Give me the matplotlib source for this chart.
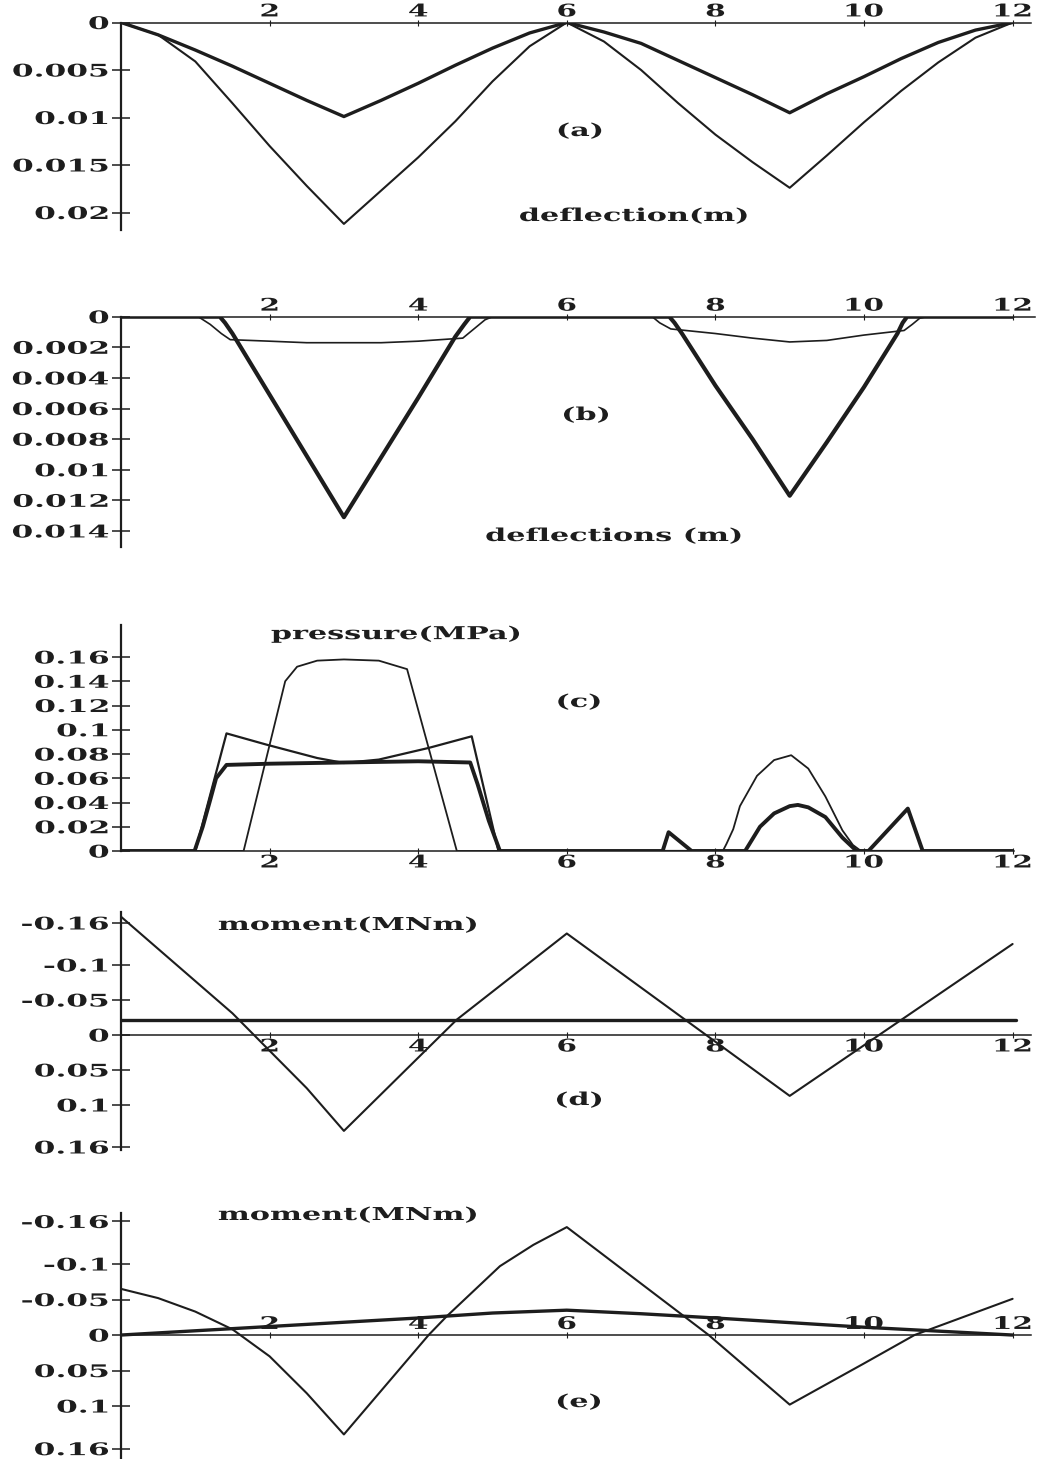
import matplotlib
matplotlib.use('Agg')
import matplotlib.pyplot as plt
from matplotlib.patheffects import AbstractPathEffect
from matplotlib.transforms import Affine2D

# ---------------- data ----------------
# (a) deflection (m)
a_x = [0, 0.5, 1, 1.5, 2, 2.5, 3, 3.5, 4, 4.5, 5, 5.5, 6,
       6.5, 7, 7.5, 8, 8.5, 9, 9.5, 10, 10.5, 11, 11.5, 12]
a_thin = [0, 0.0013, 0.0041, 0.0085, 0.0130, 0.0172, 0.0212, 0.0177, 0.0142, 0.0104, 0.0062, 0.0025, 0,
          0.0020, 0.0050, 0.0085, 0.0118, 0.0147, 0.0174, 0.0140, 0.0105, 0.0072, 0.0042, 0.0016, 0]
a_thick = [0, 0.0013, 0.0029, 0.0046, 0.0064, 0.0082, 0.0099, 0.0082, 0.0064, 0.0045, 0.0027, 0.0011, 0,
           0.0010, 0.0022, 0.0040, 0.0058, 0.0076, 0.0095, 0.0075, 0.0057, 0.0038, 0.0021, 0.0008, 0]
a_yticks = [0, 0.005, 0.01, 0.015, 0.02]
a_ylabels = ['0', '0.005', '0.01', '0.015', '0.02']

# (b) deflections (m)
b_thick_x = [0, 1.33, 1.40, 1.5, 2.0, 2.5, 3.0, 3.5, 4.0, 4.5, 4.62, 4.70,
             7.38, 7.45, 7.55, 8.0, 8.5, 9.0, 9.5, 10.0, 10.45, 10.52, 10.58, 12]
b_thick_y = [0, 0, 0.0004, 0.0011, 0.0051, 0.0091, 0.0131, 0.0092, 0.0053, 0.0013, 0.0005, 0,
             0, 0.0004, 0.0011, 0.0045, 0.0080, 0.0117, 0.0082, 0.0046, 0.0011, 0.0004, 0, 0]
b_thin_x = [0, 1.04, 1.2, 1.35, 1.47, 2.0, 2.5, 3.0, 3.5, 4.0, 4.6, 4.75, 4.9, 5.0,
            7.15, 7.25, 7.40, 8.0, 8.5, 9.0, 9.5, 10.0, 10.54, 10.65, 10.75, 10.84, 12]
b_thin_y = [0, 0, 0.0005, 0.0011, 0.0015, 0.0016, 0.0017, 0.0017, 0.0017, 0.0016, 0.0014, 0.0008, 0.0002, 0,
            0, 0.0004, 0.0008, 0.0011, 0.0014, 0.00165, 0.00155, 0.0012, 0.0009, 0.0005, 0.0001, 0, 0]
b_yticks = [0, 0.002, 0.004, 0.006, 0.008, 0.01, 0.012, 0.014]
b_ylabels = ['0', '0.002', '0.004', '0.006', '0.008', '0.01', '0.012', '0.014']

# (c) pressure (MPa)
c_thick_x = [0, 0.99, 1.10, 1.20, 1.28, 1.42, 2.0, 3.0, 4.0, 4.70, 4.80, 4.95, 5.10,
             7.29, 7.37, 7.68, 8.40, 8.47, 8.60, 8.79, 9.0, 9.11, 9.25, 9.48, 9.71, 9.90,
             10.06, 10.59, 10.79, 12]
c_thick_y = [0, 0, 0.020, 0.042, 0.060, 0.071, 0.072, 0.073, 0.074, 0.073, 0.055, 0.025, 0,
             0, 0.0155, 0, 0, 0.007, 0.020, 0.031, 0.037, 0.038, 0.036, 0.028, 0.011, 0,
             0, 0.035, 0, 0]
c_thin1_x = [0, 1.0, 1.42, 1.96, 2.64, 3.0, 3.47, 4.14, 4.72, 5.08, 12]
c_thin1_y = [0, 0, 0.097, 0.0877, 0.0767, 0.0726, 0.0754, 0.085, 0.0946, 0, 0]
c_thin2_x = [0, 1.65, 2.21, 2.37, 2.64, 3.0, 3.47, 3.85, 4.52,
             8.10, 8.15, 8.24, 8.33, 8.56, 8.79, 9.02, 9.25, 9.48, 9.71, 9.85, 9.96, 12]
c_thin2_y = [0, 0, 0.140, 0.152, 0.157, 0.158, 0.157, 0.150, 0,
             0, 0.006, 0.018, 0.037, 0.062, 0.075, 0.079, 0.068, 0.045, 0.017, 0.005, 0, 0]
c_yticks = [0, 0.02, 0.04, 0.06, 0.08, 0.1, 0.12, 0.14, 0.16]
c_ylabels = ['0', '0.02', '0.04', '0.06', '0.08', '0.1', '0.12', '0.14', '0.16']

# (d) moment (MNm)
d_thin_x = [0, 1.5, 2.5, 3.0, 4.52, 6.0, 9.0, 12.0]
d_thin_y = [-0.169, -0.031, 0.076, 0.137, -0.022, -0.145, 0.087, -0.130]
d_thick_x = [0, 12.05]
d_thick_y = [-0.022, -0.022]

# (e) moment (MNm)
e_thin_x = [0, 0.5, 1.0, 1.5, 2.0, 2.5, 3.0, 4.14, 4.38, 5.10, 5.55, 6.0,
            7.91, 9.0, 10.0, 10.68, 12.0]
e_thin_y = [-0.065, -0.052, -0.033, -0.008, 0.030, 0.082, 0.140, 0.0, -0.026, -0.097, -0.127, -0.152,
            0.0, 0.098, 0.040, 0.0, -0.051]
e_thick_x = [0, 2, 4, 5, 6, 7, 8, 10, 12]
e_thick_y = [0, -0.012, -0.024, -0.031, -0.035, -0.030, -0.024, -0.011, 0.0]

m_yticks = [-0.16, -0.1, -0.05, 0, 0.05, 0.1, 0.16]
m_ylabels = ['-0.16', '-0.1', '-0.05', '0', '0.05', '0.1', '0.16']

x_ticks = [2, 4, 6, 8, 10, 12]
x_labels = ['2', '4', '6', '8', '10', '12']

# ---------------- style ----------------
W, H = 1037, 1459
INK = '#1d1d1d'
FONT = dict(family='DejaVu Serif', weight='bold', color=INK)
plt.rcParams['font.family'] = 'DejaVu Serif'


class StretchX(AbstractPathEffect):
    """Draw text horizontally widened (the original uses an extended face)."""
    def __init__(self, sx=1.8, anchor='center'):
        super().__init__()
        self.sx = sx
        self.anchor = anchor

    def draw_path(self, renderer, gc, tpath, affine, rgbFace=None):
        ext = tpath.get_extents(affine)
        if self.anchor == 'right':
            x0 = ext.x1
        elif self.anchor == 'left':
            x0 = ext.x0
        else:
            x0 = 0.5 * (ext.x0 + ext.x1)
        aff = affine + Affine2D().translate(-x0, 0).scale(self.sx, 1).translate(x0, 0)
        renderer.draw_path(gc, tpath, aff, rgbFace)


fig = plt.figure(figsize=(W / 100, H / 100), dpi=100)
fig.patch.set_facecolor('white')
PXU = 74.3   # pixels per metre along x
X0 = 121


def make_axes(top_px, bot_px, xmax, ylim, xside, yticks, ylabels):
    ax = fig.add_axes([X0 / W, 1 - bot_px / H, xmax * PXU / W, (bot_px - top_px) / H])
    ax.set_xlim(0, xmax)
    ax.set_ylim(*ylim)
    ax.patch.set_visible(False)
    for s in ax.spines.values():
        s.set_visible(False)
    ax.spines['left'].set_visible(True)
    ax.spines['left'].set_linewidth(1.6)
    ax.spines['left'].set_color(INK)
    ax.set_yticks(yticks)
    ax.set_yticklabels(ylabels)
    ax.tick_params(axis='y', direction='inout', length=13, width=1.1, color=INK,
                   labelsize=12.5, pad=2, labelcolor=INK)
    ax.set_xticks(x_ticks)
    ax.set_xticklabels(x_labels)
    if xside in ('top', 'topzero'):
        sp = ax.spines['top']
        ax.xaxis.tick_top()
        pad = -1
    else:
        sp = ax.spines['bottom']
        ax.xaxis.tick_bottom()
        pad = 0
    sp.set_visible(True)
    sp.set_linewidth(1.1)
    sp.set_color(INK)
    if xside.endswith('zero'):
        sp.set_position(('data', 0))
    ax.tick_params(axis='x', direction='inout', length=5, width=0.8, color=INK,
                   labelsize=12.5, pad=pad, labelcolor=INK)
    for t in ax.yaxis.get_major_ticks():
        for lb in (t.label1, t.label2):
            lb.set_fontweight('bold')
            lb.set_path_effects([StretchX(1.8, 'right')])
    for t in ax.xaxis.get_major_ticks():
        for lb in (t.label1, t.label2):
            lb.set_fontweight('bold')
            lb.set_path_effects([StretchX(1.7, 'center')])
    return ax


def label(xp, yp, s):
    fig.text(xp / W, 1 - yp / H, s, ha='center', va='center', fontsize=12.8,
             path_effects=[StretchX(1.7, 'center')], **FONT)


kw = dict(solid_joinstyle='round', solid_capstyle='round')

# (a)
ax = make_axes(22.5, 229.6, 12.25, (0.0218, 0), 'top', a_yticks, a_ylabels)
ax.plot(a_x, a_thin, color=INK, lw=1.5, **kw)
ax.plot(a_x, a_thick, color=INK, lw=2.4, **kw)
label(580, 131, '(a)')
label(634, 216, 'deflection(m)')

# (b)
ax = make_axes(316.7, 546.7, 12.3, (0.01503, 0), 'top', b_yticks, b_ylabels)
ax.plot(b_thin_x, b_thin_y, color=INK, lw=1.2, **kw)
ax.plot(b_thick_x, b_thick_y, color=INK, lw=3.0, **kw)
label(586, 415, '(b)')
label(614, 536, 'deflections (m)')

# (c)
ax = make_axes(625, 851, 12.02, (0, 0.1864), 'bottom', c_yticks, c_ylabels)
ax.plot(c_thin2_x, c_thin2_y, color=INK, lw=1.3, **kw)
ax.plot(c_thin1_x, c_thin1_y, color=INK, lw=1.6, **kw)
ax.plot(c_thick_x, c_thick_y, color=INK, lw=2.8, **kw)
label(396, 634, 'pressure(MPa)')
label(579, 702, '(c)')

# (d)
ax = make_axes(912, 1150, 12.25, (0.1643, -0.1757), 'bottomzero', m_yticks, m_ylabels)
ax.plot(d_thin_x, d_thin_y, color=INK, lw=1.5, **kw)
ax.plot(d_thick_x, d_thick_y, color=INK, lw=2.4, **kw)
label(348, 925, 'moment(MNm)')
label(579, 1100, '(d)')

# (e)
ax = make_axes(1212.7, 1459, 12.25, (0.1746, -0.1723), 'topzero', m_yticks, m_ylabels)
ax.plot(e_thin_x, e_thin_y, color=INK, lw=1.5, **kw)
ax.plot(e_thick_x, e_thick_y, color=INK, lw=2.4, **kw)
label(348, 1215, 'moment(MNm)')
label(579, 1402, '(e)')

fig.savefig('out.png', dpi=100, facecolor='white')
